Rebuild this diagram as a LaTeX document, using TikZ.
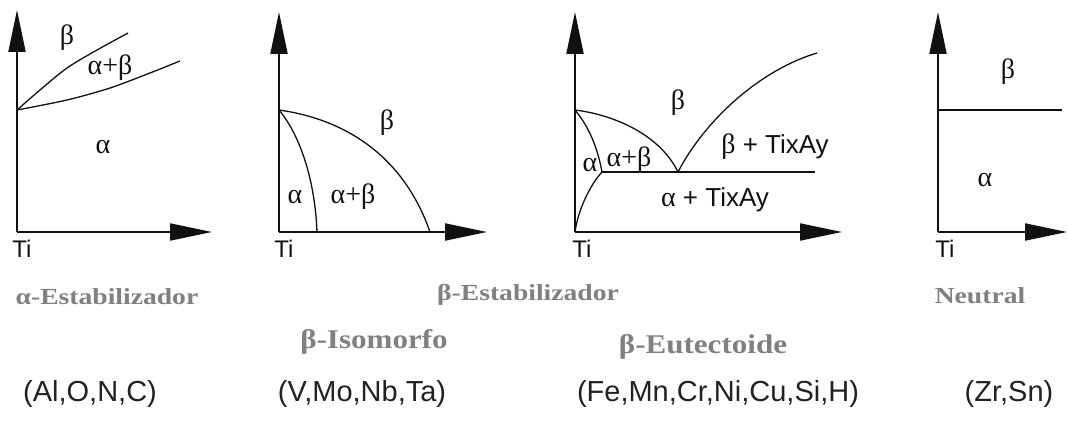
\documentclass[tikz,border=0pt]{standalone}
\usepackage{fontspec}
\usepackage{tikz}
\usetikzlibrary{arrows.meta,positioning}
\setmainfont{Liberation Serif}
\newfontfamily\sansfont{Liberation Sans}
\newfontfamily\greekfont{Liberation Serif}
\newfontfamily\capfont[FakeStretch=1.2]{Liberation Serif}
\newfontfamily\subcapfont[FakeStretch=1.15]{Liberation Serif}
\definecolor{DiagInk}{HTML}{111111}
\definecolor{CapGray}{HTML}{808080}
\definecolor{ListInk}{HTML}{222222}
\tikzset{
  axis/.style={-{Triangle[length=42pt,width=17pt]}, line width=2pt, draw=DiagInk},
  phase/.style={line width=1.3pt, draw=DiagInk},
  greek/.style={inner sep=0pt, text=DiagInk, font=\greekfont\fontsize{28}{30}\selectfont},
  compound/.style={inner sep=0pt, text=DiagInk, font=\sansfont\fontsize{26}{30}\selectfont},
  origin/.style={inner sep=0pt, text=DiagInk, font=\sansfont\fontsize{24}{28}\selectfont},
  caption/.style={inner sep=0pt, text=CapGray, font=\capfont\bfseries\fontsize{23}{26}\selectfont},
  subcaption/.style={inner sep=0pt, text=CapGray, font=\subcapfont\bfseries\fontsize{27}{30}\selectfont},
  elements/.style={inner sep=0pt, text=ListInk, font=\sansfont\fontsize{29}{34}\selectfont},
}

\begin{document}
\begin{tikzpicture}[x=1pt,y=-1pt]
  \useasboundingbox[fill=white] (0,0) rectangle (1068,425);

  % alpha stabilizer
  \draw[axis] (17,232) -- (17,10);
  \draw[axis] (17,232) -- (212,232);
  \draw[phase] plot[smooth] coordinates {(17,110) (40,90) (67,68) (97,50) (128,33)};
  \draw[phase] plot[smooth] coordinates {(17,110) (67,100) (110,88) (150,73) (180,61)};
  \node[greek] (betaA) at (67,38) {β};
  \node[greek] (mixA) at (110,68) {α+β};
  \node[greek] (alphaA) at (103,147) {α};
  \node[origin] (tiA) at (22,249) {Ti};

  % beta isomorphous
  \draw[axis] (279,232) -- (279,12);
  \draw[axis] (279,232) -- (487,232);
  \draw[phase] (279,110) .. controls (350,120) and (405,160) .. (430,232);
  \draw[phase] (279,110) .. controls (300,135) and (315,180) .. (317,232);
  \node[greek] (betaB) at (387,123) {β};
  \node[greek] (alphaB) at (295,197) {α};
  \node[greek] (mixB) at (353,197) {α+β};
  \node[origin] (tiB) at (284,249) {Ti};

  % beta eutectoid
  \draw[axis] (575,232) -- (575,12);
  \draw[axis] (575,232) -- (842,232);
  \draw[phase] (575,110) .. controls (590,128) and (598,150) .. (602,172);
  \draw[phase] (602,172) .. controls (590,185) and (578,210) .. (575,232);
  \draw[phase] (575,110) .. controls (615,115) and (660,135) .. (678,172);
  \draw[phase] (678,172) .. controls (705,120) and (760,70) .. (817,53);
  \draw[phase] (602,172) -- (815,172);
  \node[greek] (betaC) at (678,103) {β};
  \node[greek] (alphaC) at (590,165) {α};
  \node[greek] (mixC) at (629,160) {α+β};
  \node[compound] (betaTi) at (775,147) {{\greekfont\fontsize{28}{30}\selectfont β} + TixAy};
  \node[compound] (alphaTi) at (715,200) {{\greekfont\fontsize{28}{30}\selectfont α} + TixAy};
  \node[origin] (tiC) at (582,249) {Ti};

  % neutral
  \draw[axis] (938,232) -- (938,12);
  \draw[axis] (938,232) -- (1067,232);
  \draw[phase] (938,110) -- (1062,110);
  \node[greek] (betaD) at (1008,72) {β};
  \node[greek] (alphaD) at (985,180) {α};
  \node[origin] (tiD) at (945,249) {Ti};

  % captions
  \node[caption] (capAlpha) at (107,297) {α-Estabilizador};
  \node[caption] (capBeta) at (528,295) {β-Estabilizador};
  \node[caption] (capNeutral) at (980,296) {Neutral};
  \node[subcaption] (capIso) at (374,342) {β-Isomorfo};
  \node[subcaption] (capEut) at (703,347) {β-Eutectoide};

  % alloying elements
  \node[elements] (listA) at (90,394) {(Al,O,N,C)};
  \node[elements] (listB) at (362,394) {(V,Mo,Nb,Ta)};
  \node[elements] (listC) at (718,394) {(Fe,Mn,Cr,Ni,Cu,Si,H)};
  \node[elements] (listD) at (1009,394) {(Zr,Sn)};
\end{tikzpicture}
\end{document}
